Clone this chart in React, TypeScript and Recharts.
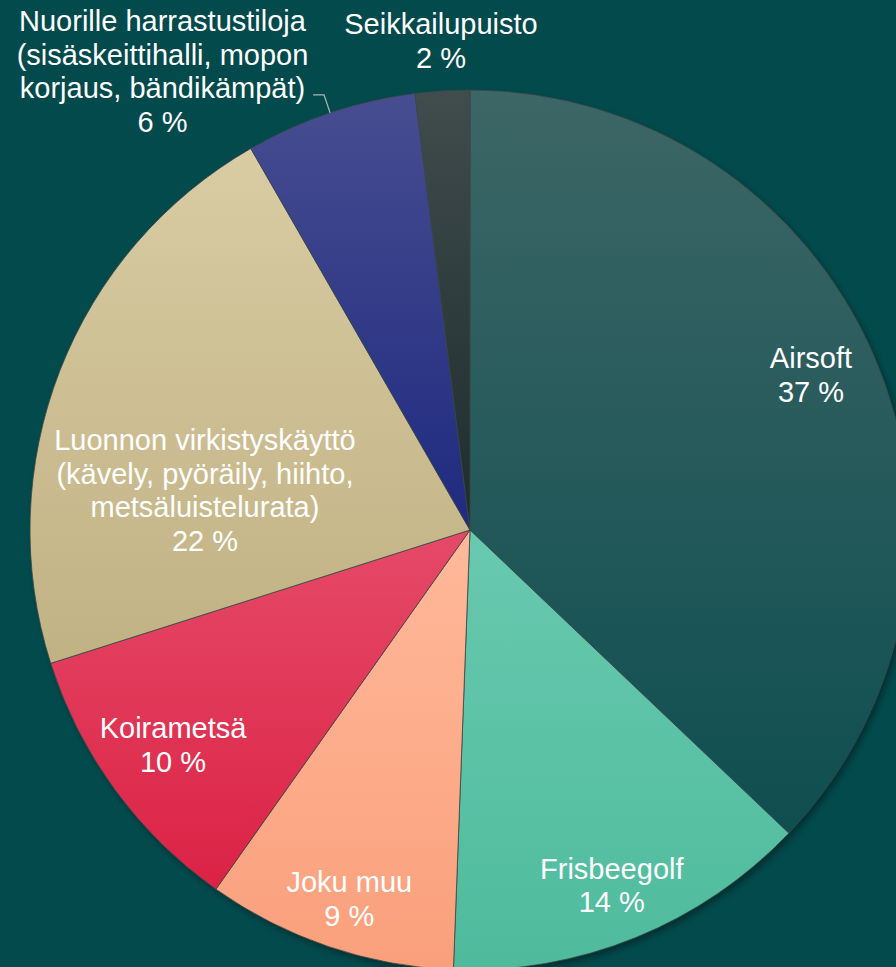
import React from "react";
import { PieChart, Pie, Cell } from "recharts";

const categories = [
  "Airsoft",
  "Frisbeegolf",
  "Joku muu",
  "Koirametsä",
  "Luonnon virkistyskäyttö\n(kävely, pyöräily, hiihto,\nmetsäluistelurata)",
  "Nuorille harrastustiloja\n(sisäskeittihalli, mopon\nkorjaus, bändikämpät)",
  "Seikkailupuisto",
];
const shares = [37.1, 13.5, 9.2, 10.3, 21.6, 6.3, 2.0];

const gradients = [
  ["#3d6666", "#0f4e50"],
  ["#68c9af", "#4fbb9c"],
  ["#ffb99b", "#fa9f7b"],
  ["#e64a68", "#db2245"],
  ["#d9cba3", "#c0b283"],
  ["#474d90", "#1f2a80"],
  ["#414c4c", "#1c2c2e"],
];

// label placement: radius fraction and clockwise angle nudge (degrees)
const labelPlacement = [
  { r: 0.851, a: -1.2 },
  { r: 0.87, a: 0.4 },
  { r: 0.882, a: -0.6 },
  { r: 0.833, a: 0.3 },
  { r: 0.609, a: -12.8 },
  { r: 1.255, a: -15.3 },
  { r: 1.113, a: 0.2 },
];

const data = categories.map((name, i) => ({ name, value: shares[i] }));

const FONT = "'Liberation Sans', Arial, sans-serif";
const FS = 29;
const LH = 33.5;

const polar = (cx: number, cy: number, r: number, cwDeg: number) => {
  const rad = (cwDeg * Math.PI) / 180;
  return { x: cx + r * Math.sin(rad), y: cy - r * Math.cos(rad) };
};

const renderLabel = (props: any) => {
  const { cx, cy, midAngle, outerRadius, index } = props;
  const pl = labelPlacement[index];
  const midCw = 90 - midAngle;
  const pos = polar(cx, cy, outerRadius * pl.r, midCw + pl.a);
  const lines = [...categories[index].split("\n"), `${Math.round(shares[index])} %`];
  const firstBaseline = pos.y - ((lines.length - 1) * LH) / 2 + 10;
  let leader = null;
  if (index === 5) {
    const p0 = polar(cx, cy, outerRadius, midCw);
    const p1 = polar(cx, cy, outerRadius + 19, midCw);
    leader = (
      <polyline
        points={`${p0.x},${p0.y} ${p1.x},${p1.y} ${p1.x - 11},${p1.y}`}
        fill="none"
        stroke="#a9b6b6"
        strokeWidth={1.3}
      />
    );
  }
  return (
    <g key={`lbl-${index}`}>
      {leader}
      <text
        x={pos.x}
        y={firstBaseline}
        textAnchor="middle"
        fill="#ffffff"
        fontSize={FS}
        fontFamily={FONT}
      >
        {lines.map((ln, j) => (
          <tspan key={j} x={pos.x} dy={j === 0 ? 0 : LH}>
            {ln}
          </tspan>
        ))}
      </text>
    </g>
  );
};

export default function App() {
  return (
    <div
      style={{
        position: "absolute",
        left: 0,
        top: 0,
        width: 896,
        height: 967,
        background: "#024a4c",
        overflow: "hidden",
      }}
    >
      <PieChart width={896} height={967} margin={{ top: 0, right: 0, bottom: 0, left: 0 }}>
        <defs>
          {gradients.map((g, i) => (
            <linearGradient key={i} id={`grad${i}`} x1="0" y1="0" x2="0" y2="1">
              <stop offset="0%" stopColor={g[0]} />
              <stop offset="100%" stopColor={g[1]} />
            </linearGradient>
          ))}
          <filter id="shadowBlur" x="-20%" y="-20%" width="140%" height="140%">
            <feGaussianBlur stdDeviation="3" />
          </filter>
        </defs>
        <Pie
          data={data}
          dataKey="value"
          cx={473}
          cy={534}
          outerRadius={440}
          startAngle={90}
          endAngle={-270}
          stroke="none"
          isAnimationActive={false}
          label={false}
          labelLine={false}
        >
          {data.map((_, i) => (
            <Cell key={i} fill="rgba(0,0,0,0.35)" filter="url(#shadowBlur)" />
          ))}
        </Pie>
        <Pie
          data={data}
          dataKey="value"
          cx={470}
          cy={530}
          outerRadius={440}
          startAngle={90}
          endAngle={-270}
          stroke="#3b4848"
          strokeWidth={0.8}
          isAnimationActive={false}
          label={renderLabel}
          labelLine={false}
        >
          {data.map((_, i) => (
            <Cell key={i} fill={`url(#grad${i})`} />
          ))}
        </Pie>
      </PieChart>
    </div>
  );
}
